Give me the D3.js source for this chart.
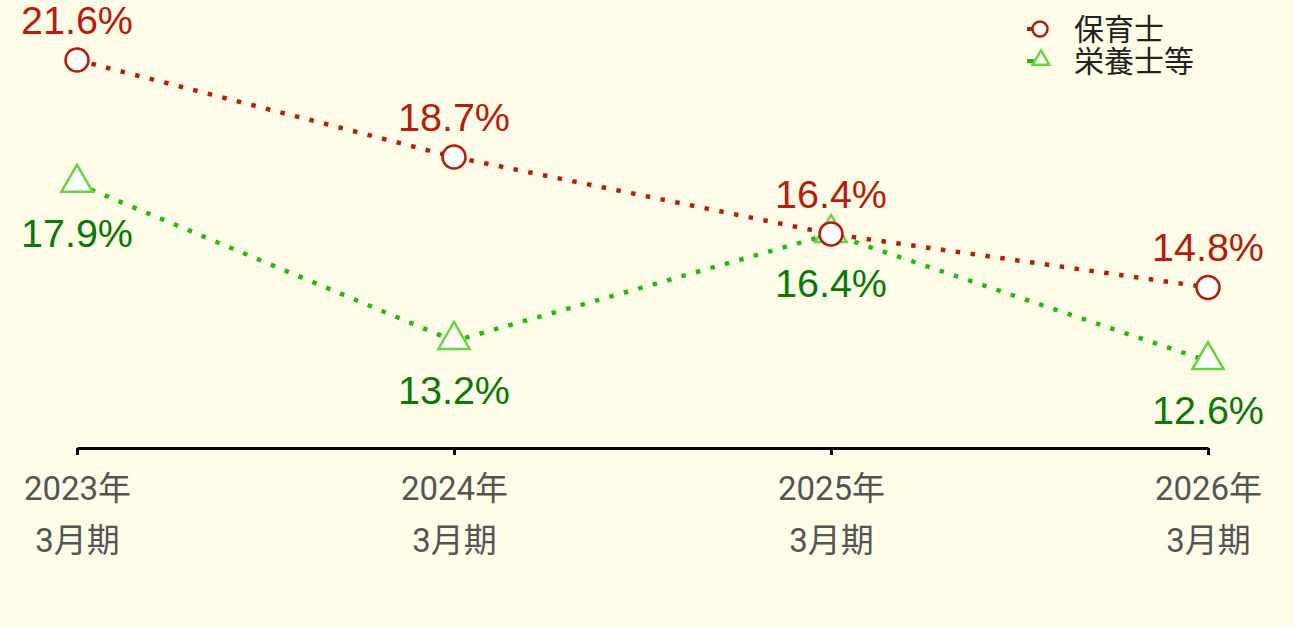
<!DOCTYPE html>
<html>
<head>
<meta charset="utf-8">
<script src="https://cdn.jsdelivr.net/npm/d3@7"></script>
<style>
  html, body { margin: 0; padding: 0; background: #fffde8; }
  svg { display: block; }
  .val { font-family: "Liberation Sans", Arial, sans-serif; font-size: 39.5px; }
  .tick text { font-family: Roboto, "Noto Sans CJK JP", sans-serif; font-size: 33px; fill: #555; }
  .legend text { font-family: "Noto Sans CJK JP", sans-serif; font-size: 30px; fill: #222; }
</style>
</head>
<body>
<div id="chart"></div>
<script>
// data
var periods = ['2023年\n3月期', '2024年\n3月期', '2025年\n3月期', '2026年\n3月期'];
var hoikushi = [21.6, 18.7, 16.4, 14.8];
var eiyoushi = [17.9, 13.2, 16.4, 12.6];
var seriesNames = ['保育士', '栄養士等'];

var width = 1294, height = 626;

var svg = d3.select('#chart').append('svg')
  .attr('width', width)
  .attr('height', height);

var x = d3.scalePoint()
  .domain(periods)
  .range([77, 1208]);

var y = d3.scaleLinear()
  .domain([10, 21.6])
  .range([448, 60]);

// axis
var axis = svg.append('g')
  .attr('transform', 'translate(0,448)')
  .call(d3.axisBottom(x).tickSize(7).tickSizeOuter(0));
axis.select('.domain').attr('stroke', '#000').attr('stroke-width', 3);
axis.selectAll('.tick line').attr('stroke', '#000').attr('stroke-width', 3);
axis.selectAll('.tick text').each(function(d) {
  var t = d3.select(this).text('').attr('dy', null).attr('y', null);
  var parts = d.split('\n');
  t.append('tspan').attr('x', 0).attr('y', 52).attr('dy', 0).text(parts[0]);
  t.append('tspan').attr('x', 0).attr('y', 104).attr('dy', 0).text(parts[1]);
});

var series = [
  { name: seriesNames[0], values: hoikushi, line: '#b81c0c', label: '#b81c0c', stroke: '#b81c0c', shape: 'circle', labelDy: -40 },
  { name: seriesNames[1], values: eiyoushi, line: '#22bb11', label: '#0a780a', stroke: '#66d444', shape: 'triangle', labelDy: 49 }
];

var line = d3.line()
  .x(function(d, i) { return x(periods[i]); })
  .y(function(d) { return y(d); });

series.forEach(function(s) {
  svg.append('path')
    .datum(s.values)
    .attr('fill', 'none')
    .attr('stroke', s.line)
    .attr('stroke-width', 4.5)
    .attr('stroke-dasharray', '4.5,10.5')
    .attr('d', line);
});

function drawMarker(g, s, cx, cy) {
  if (s.shape === 'circle') {
    g.append('circle')
      .attr('cx', cx).attr('cy', cy).attr('r', 11.5)
      .attr('fill', '#fff').attr('stroke', s.stroke).attr('stroke-width', 2.5);
  } else {
    g.append('path')
      .attr('d', d3.symbol().type(d3.symbolTriangle).size(420)())
      .attr('transform', 'translate(' + cx + ',' + (cy - 1) + ')')
      .attr('fill', '#fff').attr('stroke', s.stroke).attr('stroke-width', 2.5);
  }
}

// green first so red circle sits on top
[series[1], series[0]].forEach(function(s) {
  var g = svg.append('g');
  s.values.forEach(function(v, i) {
    drawMarker(g, s, x(periods[i]), y(v));
  });
});

series.forEach(function(s) {
  svg.append('g').selectAll('text')
    .data(s.values)
    .enter().append('text')
    .attr('class', 'val')
    .attr('x', function(d, i) { return x(periods[i]); })
    .attr('y', function(d) { return y(d) + s.labelDy; })
    .attr('dy', '0.35em')
    .attr('text-anchor', 'middle')
    .attr('fill', s.label)
    .text(function(d) { return d.toFixed(1) + '%'; });
});

// legend
var legend = svg.append('g').attr('class', 'legend');
series.forEach(function(s, i) {
  var ly = 29 + i * 32;
  legend.append('line')
    .attr('x1', 1027).attr('x2', 1034)
    .attr('y1', ly).attr('y2', ly)
    .attr('stroke', s.line).attr('stroke-width', 4);
  if (s.shape === 'circle') {
    legend.append('circle').attr('cx', 1040).attr('cy', ly).attr('r', 7.5)
      .attr('fill', '#fff').attr('stroke', s.stroke).attr('stroke-width', 2.5);
  } else {
    legend.append('path')
      .attr('d', d3.symbol().type(d3.symbolTriangle).size(120)())
      .attr('transform', 'translate(1041,' + (ly - 1) + ')')
      .attr('fill', '#fff').attr('stroke', s.stroke).attr('stroke-width', 2.5);
  }
  legend.append('text')
    .attr('x', 1074).attr('y', ly).attr('dy', '0.36em')
    .text(s.name);
});
</script>
</body>
</html>
